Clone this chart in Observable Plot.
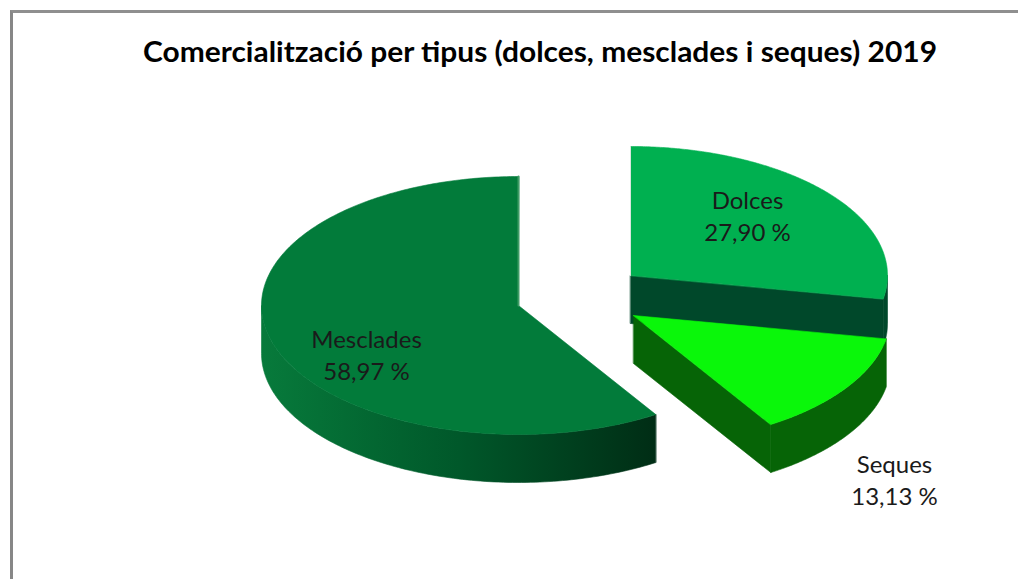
<!DOCTYPE html>
<html>
<head>
<meta charset="utf-8">
<script src="https://cdn.jsdelivr.net/npm/d3@7"></script>
<script src="https://cdn.jsdelivr.net/npm/@observablehq/plot@0.6"></script>
<style>
  html, body { margin: 0; padding: 0; background: #fff; }
  #wrap { position: relative; width: 1018px; height: 579px; overflow: hidden; background: #fff; }
  #frame { position: absolute; left: 10px; top: 10px; width: 1100px; height: 700px;
           border-left: 3px solid #878787; border-top: 3px solid #8f8f8f; z-index: 3; pointer-events: none; }
  #title { position: relative; height: 90px; }
  #title span { position: absolute; left: 540px; top: 37px; white-space: nowrap;
                font-family: Lato, "Open Sans", sans-serif; font-weight: 700; font-size: 28px; line-height: 28px;
                color: #000; transform-origin: 50% 50%; }
  #chart svg { display: block; }
</style>
</head>
<body>
<div id="wrap">
  <div id="frame"></div>
  <div id="title"><span id="titleText">Comercialització per tipus (dolces, mesclades i seques) 2019</span></div>
  <div id="chart"></div>
</div>
<script>
// ---- data ----
const categories = ["Dolces", "Seques", "Mesclades"];
const values = [27.90, 13.13, 58.97];
const topColors = ["#00b050", "#0af70a", "#027b3a"];
const sideColors = ["#00482a", "#066406", "url(#mescGrad)"];
const gradientStops = ["#077a3b", "#00582a", "#002d15"];

// ---- layout (pixels) ----
const W = 1018, H = 579, TOP = 90;
const RX = 257, RY = 129, DEPTH = 48;
const centers = [[630, 275], [633, 315], [518, 305]];
const labelOffsets = [[117, -61], [261, 163], [-152, 48]];

const total = d3.sum(values);
const fmt = v => v.toFixed(2).replace(".", ",") + " %";
const pt = (c, a, dz = 0) => [c[0] + RX * Math.sin(a), c[1] - RY * Math.cos(a) + dz];
const arc = (c, a0, a1, dz = 0, n = 120) => d3.range(n + 1).map(i => pt(c, a0 + (a1 - a0) * i / n, dz));

const layers = []; // each layer: {data, fill}
function poly(id, pts, color) { return pts.map(([x, y]) => ({id, x, y, color})); }

let acc = 0;
const slices = values.map((v, i) => {
  const a0 = acc / total * 2 * Math.PI; acc += v;
  const a1 = acc / total * 2 * Math.PI;
  return {i, a0, a1, c: centers[i]};
});

const edgeLines = [];
const labels = [];
let gradExtent = null;
slices.forEach(s => {
  const {i, a0, a1, c} = s;
  // cut faces (radial walls)
  [[a0, -Math.sin(a0)], [a1, Math.sin(a1)]].forEach(([a, vis], k) => {
    if (vis > 1e-6) {
      layers.push({data: poly(`cut${i}-${k}`, [c, pt(c, a), pt(c, a, DEPTH), [c[0], c[1] + DEPTH]], sideColors[i].startsWith("url") ? gradientStops[2] : sideColors[i])});
    } else if (Math.abs(vis) <= 1e-6) {
      const p = pt(c, a);
      edgeLines.push({id: `e${i}-${k}`, x: c[0], y: c[1], k: i}, {id: `e${i}-${k}`, x: p[0], y: p[1], k: i});
    }
  });
  // outer rim, visible front half only
  const s0 = Math.max(a0, Math.PI / 2), s1 = Math.min(a1, 3 * Math.PI / 2);
  if (s1 > s0) {
    layers.push({data: poly(`rim${i}`, [...arc(c, s0, s1), ...arc(c, s1, s0, DEPTH)], sideColors[i])});
    if (sideColors[i].startsWith("url")) gradExtent = [c[0] - RX, pt(c, s0)[0]];
  }
  layers.push({data: poly(`top${i}`, [c, ...arc(c, a0, a1, 0, 240)], topColors[i])});
  labels.push({x: c[0] + labelOffsets[i][0], y: c[1] + labelOffsets[i][1], text: `${categories[i]}\n${fmt(values[i])}`});
});

const polyMark = ({data}) => {
  const col = data[0].color;
  return Plot.line(data, {x: "x", y: "y", z: "id", fill: col, stroke: col, strokeWidth: 0.6, curve: "linear-closed"});
};

const plot = Plot.plot({
  width: W, height: H - TOP,
  margin: 0,
  style: {background: "transparent", overflow: "visible"},
  x: {domain: [0, W], range: [0, W], axis: null},
  y: {domain: [TOP, H], range: [0, H - TOP], axis: null},
  marks: [
    ...layers.map(polyMark),
    Plot.line(edgeLines.filter(d => d.k === 2), {x: "x", y: "y", z: "id", stroke: "#3f9c65", strokeWidth: 2}),
    Plot.line(edgeLines.filter(d => d.k === 0), {x: "x", y: "y", z: "id", stroke: "#d9e6dd", strokeWidth: 1}),
    Plot.text(labels, {x: "x", y: "y", text: "text", fontSize: 24, lineHeight: 32 / 24, fill: "#1a1a1a",
      fontFamily: "Lato, 'Open Sans', sans-serif", textAnchor: "middle"})
  ]
});

// horizontal shading gradient for the large slice's wall
const svg = d3.select(plot);
const grad = svg.insert("defs", ":first-child").append("linearGradient")
  .attr("id", "mescGrad").attr("gradientUnits", "userSpaceOnUse")
  .attr("x1", gradExtent[0]).attr("x2", gradExtent[1]).attr("y1", 0).attr("y2", 0);
gradientStops.forEach((c, k) => grad.append("stop").attr("offset", k / (gradientStops.length - 1)).attr("stop-color", c));

document.getElementById("chart").appendChild(plot);

// fit title width to the reference
const t = document.getElementById("titleText");
const w = t.getBoundingClientRect().width;
t.style.transform = `translateX(-50%) scaleX(${794 / w})`;
</script>
</body>
</html>
